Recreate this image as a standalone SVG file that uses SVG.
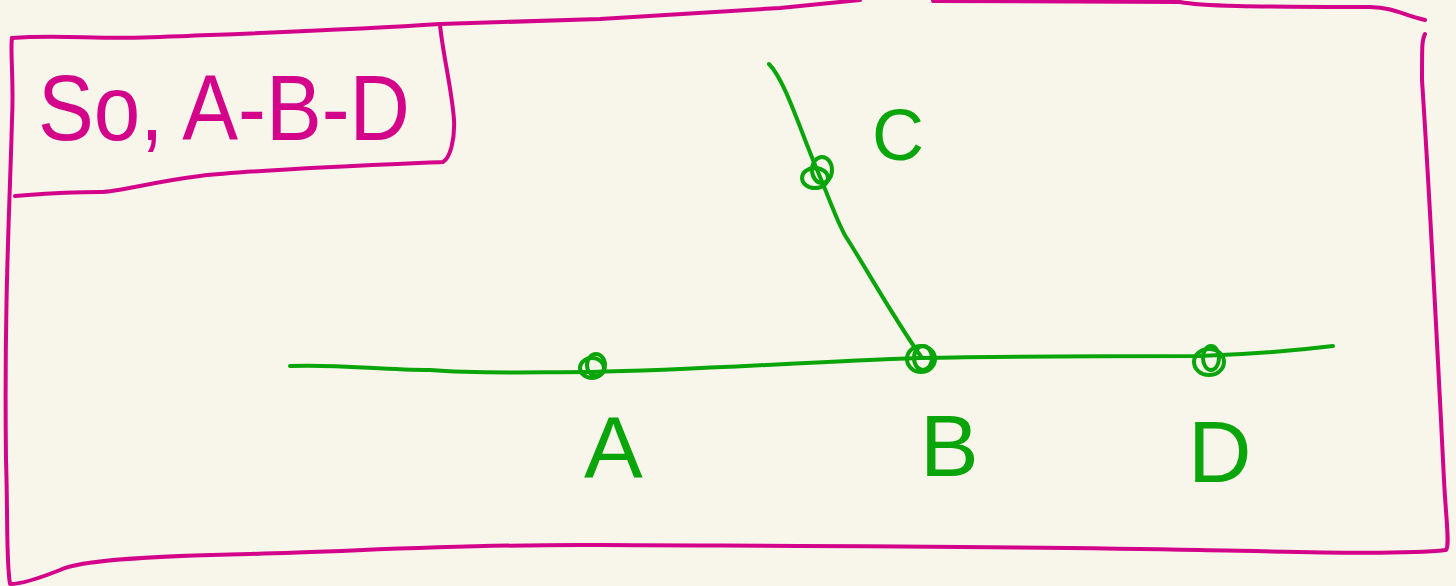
<svg xmlns="http://www.w3.org/2000/svg" width="1456" height="586" viewBox="0 0 1456 586">
<style>
.pk{fill:none;stroke:#d4048a;stroke-width:4;stroke-linecap:round;stroke-linejoin:round}
.gr{fill:none;stroke:#0aa50a;stroke-width:4;stroke-linecap:round;stroke-linejoin:round}
.pt{font-family:"Liberation Sans",Arial,sans-serif;fill:#d4048a}
.gt{font-family:"Liberation Sans",Arial,sans-serif;fill:#0aa50a}
</style>
<rect width="1456" height="586" fill="#f8f6ea"/>
<g id="frame">
<path class="pk" d="M12,38 C60,34 100,40 160,37 C260,33 350,30 440,24 C520,22 560,20 600,19 C680,14 740,10 780,8 C820,4 850,1 860,0 M933,1 L1180,2 C1200,6 1250,7 1370,7 C1395,8 1400,14 1425,20"/>
<path class="pk" d="M1425,34 C1422,40 1422,44 1422,80 C1430,200 1440,400 1444,480 C1446,520 1450,545 1446,550 C1400,555 1300,552 1200,550 C1000,546 800,546 600,545 C450,544 350,552 250,554 C150,556 80,560 60,570 C40,578 20,584 10,584 C6,560 8,520 6,460 C4,300 10,200 12,120 C14,80 10,50 12,38"/>
</g>
<g id="summary">
<path class="pk" d="M440,24 C442,50 452,90 454,120 C455,140 450,158 443,162 C350,166 250,170 200,176 C150,182 120,192 100,192 C60,192 30,195 15,196"/>
<text class="pt" x="38" y="140" font-size="92" textLength="372" lengthAdjust="spacingAndGlyphs">So, A-B-D</text>
</g>
<g id="connectors">
<path class="gr" d="M290,366 C340,364 380,370 430,370 C480,374 530,372 590,372 C700,370 800,362 920,358 C1020,356 1120,356 1200,356 C1260,354 1300,350 1333,346"/>
<path class="gr" d="M769,64 C785,80 800,130 818,172 C830,200 840,230 848,240 C870,275 895,320 922,358"/>
</g>
<g id="A">
<ellipse class="gr" cx="592" cy="368" rx="12" ry="10"/>
<ellipse class="gr" cx="596" cy="365" rx="9" ry="11"/>
<text class="gt" x="584" y="478" font-size="88">A</text>
</g>
<g id="B">
<ellipse class="gr" cx="921" cy="359" rx="14" ry="13"/>
<ellipse class="gr" cx="923" cy="358" rx="9" ry="12"/>
<text class="gt" x="920" y="476" font-size="88">B</text>
</g>
<g id="C">
<ellipse class="gr" cx="815" cy="178" rx="13" ry="10"/>
<ellipse class="gr" cx="822" cy="170" rx="10" ry="13"/>
<text class="gt" x="872" y="160" font-size="72">C</text>
</g>
<g id="D">
<ellipse class="gr" cx="1209" cy="362" rx="15" ry="13"/>
<ellipse class="gr" cx="1211" cy="358" rx="8" ry="12"/>
<text class="gt" x="1188" y="482" font-size="88">D</text>
</g>
</svg>
